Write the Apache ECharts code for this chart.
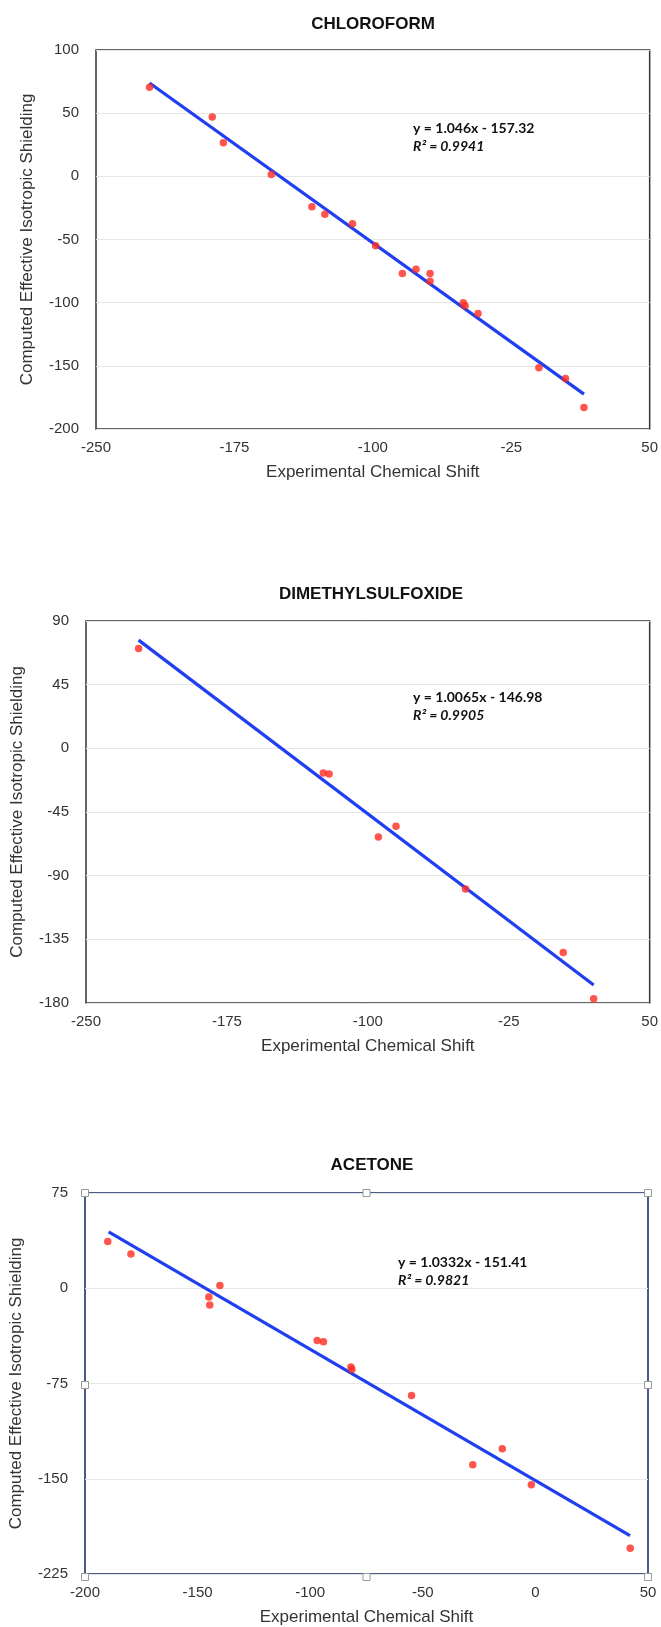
<!DOCTYPE html>
<html>
<head>
<meta charset="utf-8">
<title>Chemical shift correlations</title>
<script src="https://cdn.jsdelivr.net/npm/echarts@6/dist/echarts.min.js"></script>
<style>
  html, body { margin: 0; padding: 0; background: #fff; }
  #main { width: 661px; height: 1627px; }
</style>
</head>
<body>
<div id="main"></div>
<script>
// values
var titles = ['CHLOROFORM', 'DIMETHYLSULFOXIDE', 'ACETONE'];
var eqTexts = ['y = 1.046x - 157.32', 'y = 1.0065x - 146.98', 'y = 1.0332x - 151.41'];
var r2Texts = ['R\u00b2 = 0.9941', 'R\u00b2 = 0.9905', 'R\u00b2 = 0.9821'];

var chloroX = [-221, -187, -181, -155, -133, -126, -111, -98.5, -84, -76.6, -69, -69, -51, -50, -43, -10, 4.4, 14.4];
var chloroY = [70.5, 47, 26.5, 1.5, -24, -30, -37.5, -55, -77, -73.5, -77, -83, -100, -102.5, -108.5, -151.5, -160, -183];
var chloroTrendX = [-221, 14.4];
var chloroTrendY = [73.9, -172.4];

var dmsoX = [-222, -123.7, -120.6, -94.4, -85, -48, 4, 20.2];
var dmsoY = [70.5, -17.4, -18.1, -62.7, -55, -99.5, -144.3, -177];
var dmsoTrendX = [-222, 20.2];
var dmsoTrendY = [76.5, -167.3];

var acetoneX = [-189.9, -179.6, -145, -144.6, -140.1, -96.9, -94.1, -81.9, -81.5, -55, -27.8, -14.7, -1.8, 42.1];
var acetoneY = [36.9, 27, -6.9, -13.2, 2.2, -41.1, -42.1, -62, -64, -84.4, -138.9, -126.4, -154.8, -204.7];
var acetoneTrendX = [-189.5, 42];
var acetoneTrendY = [44.4, -194.8];

var xRanges = [[-250, 50, 75], [-250, 50, 75], [-200, 50, 50]];
var yRanges = [[-200, 100, 50], [-180, 90, 45], [-225, 75, 75]];

var xName = 'Experimental Chemical Shift';
var yName = 'Computed Effective Isotropic Shielding';

var pts = function(xs, ys) {
    var out = [];
    for (var i = 0; i < xs.length; i++) out.push([xs[i], ys[i]]);
    return out;
};

var scatterData = [pts(chloroX, chloroY), pts(dmsoX, dmsoY), pts(acetoneX, acetoneY)];
var trendData = [pts(chloroTrendX, chloroTrendY), pts(dmsoTrendX, dmsoTrendY), pts(acetoneTrendX, acetoneTrendY)];

// layout of the three panels
var grids = [
    { left: 96, top: 50, width: 555, height: 379 },
    { left: 86, top: 621, width: 565, height: 382 },
    { left: 85, top: 1193, width: 563, height: 384 }
];
var borderColors = ['#333', '#333', '#4a5b87'];
var titleTops = [11, 581, 1152];
var titleCenters = [368, 366, 367];
var eqPos = [[413, 121], [413, 690], [398, 1255]];

var font = "'Liberation Sans', Arial, Helvetica, sans-serif";

var option = {
    animation: false,
    backgroundColor: '#fff',
    title: [],
    grid: [],
    xAxis: [],
    yAxis: [],
    series: [],
    graphic: []
};

for (let i = 0; i < 3; i++) {
    let g = grids[i];
    option.title.push({
        text: titles[i],
        left: titleCenters[i],
        top: titleTops[i],
        textAlign: 'center',
        textStyle: { fontFamily: font, fontSize: 17, fontWeight: 'bold', color: '#111' }
    });
    option.grid.push({
        left: g.left, top: g.top, width: g.width, height: g.height,
        show: true,
        backgroundColor: '#fff',
        borderColor: borderColors[i],
        borderWidth: i == 2 ? 2 : 1.5
    });
    option.xAxis.push({
        type: 'value',
        gridIndex: i,
        min: xRanges[i][0], max: xRanges[i][1], interval: xRanges[i][2],
        name: xName,
        nameLocation: 'middle',
        nameGap: 35,
        nameTextStyle: { fontFamily: font, fontSize: 17, color: '#333' },
        axisLine: { show: false },
        axisTick: { show: false },
        splitLine: { show: false },
        axisLabel: { fontFamily: font, fontSize: 15, color: '#333', margin: 11 }
    });
    option.yAxis.push({
        type: 'value',
        gridIndex: i,
        min: yRanges[i][0], max: yRanges[i][1], interval: yRanges[i][2],
        name: yName,
        nameLocation: 'middle',
        nameGap: i == 0 ? 60 : 60,
        nameTextStyle: { fontFamily: font, fontSize: 17, color: '#333' },
        axisLine: { show: false },
        axisTick: { show: false },
        splitLine: { show: true, lineStyle: { color: '#e6e6e6', width: 1 } },
        axisLabel: { fontFamily: font, fontSize: 15, color: '#333', margin: 17 }
    });
    option.series.push({
        type: 'line',
        xAxisIndex: i, yAxisIndex: i,
        data: trendData[i],
        showSymbol: false,
        symbol: 'none',
        lineStyle: { color: '#1f3ff0', width: 3.2 },
        z: 2
    });
    option.series.push({
        type: 'scatter',
        xAxisIndex: i, yAxisIndex: i,
        data: scatterData[i],
        symbolSize: 7.5,
        itemStyle: { color: '#ff2a1f' },
        z: 3
    });
    option.graphic.push({
        type: 'text',
        left: eqPos[i][0],
        top: eqPos[i][1],
        style: {
            text: eqTexts[i],
            font: "bold 14px Lato, 'Open Sans', sans-serif",
            fill: '#111'
        }
    });
    option.graphic.push({
        type: 'text',
        left: eqPos[i][0],
        top: eqPos[i][1] + 18,
        style: {
            text: r2Texts[i],
            font: "italic bold 14px Lato, 'Open Sans', sans-serif",
            fill: '#111'
        }
    });
}

// selection handles round the third panel
(function() {
    let g = grids[2];
    let xs = [g.left, g.left + g.width / 2, g.left + g.width];
    let ys = [g.top, g.top + g.height / 2, g.top + g.height];
    for (let a = 0; a < 3; a++) {
        for (let b = 0; b < 3; b++) {
            if (a == 1 && b == 1) continue;
            option.graphic.push({
                type: 'rect',
                shape: { x: xs[a] - 3.5, y: ys[b] - 3.5, width: 7, height: 7 },
                style: { fill: '#fff', stroke: '#999', lineWidth: 1 },
                z: 10
            });
        }
    }
})();

var myChart = echarts.init(document.getElementById('main'));
myChart.setOption(option);
</script>
</body>
</html>
